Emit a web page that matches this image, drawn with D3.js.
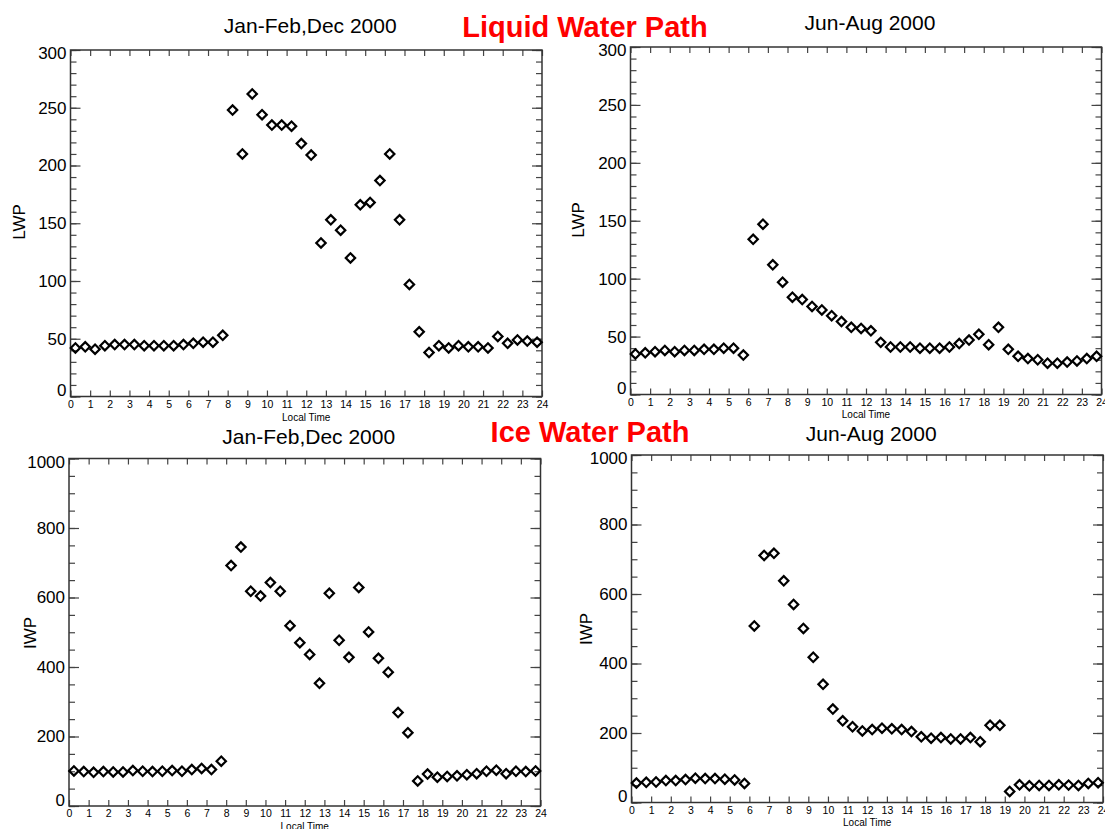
<!DOCTYPE html>
<html>
<head>
<meta charset="utf-8">
<script src="https://cdn.jsdelivr.net/npm/d3@7"></script>
<style>
  body { margin: 0; background: #fff; }
  svg { display: block; }
  text { font-family: "Liberation Sans", Arial, Helvetica, sans-serif; fill: #000; }
</style>
</head>
<body>
<svg id="chart" width="1105" height="829"></svg>
<script>
// local time of each half-hour bin
const localTime = [0.25, 0.75, 1.25, 1.75, 2.25, 2.75, 3.25, 3.75, 4.25, 4.75, 5.25, 5.75,
    6.25, 6.75, 7.25, 7.75, 8.25, 8.75, 9.25, 9.75, 10.25, 10.75, 11.25, 11.75,
    12.25, 12.75, 13.25, 13.75, 14.25, 14.75, 15.25, 15.75, 16.25, 16.75, 17.25, 17.75,
    18.25, 18.75, 19.25, 19.75, 20.25, 20.75, 21.25, 21.75, 22.25, 22.75, 23.25, 23.75];

const lwpWinter = [42, 43, 41, 44, 45, 45, 45, 44, 44, 44, 44, 45,
    46, 47, 47, 53, 248, 210, 262, 244, 235, 235, 234, 219,
    209, 133, 153, 144, 120, 166, 168, 187, 210, 153, 97, 56,
    38, 44, 42, 44, 43, 43, 42, 52, 46, 49, 48, 47];

const lwpSummer = [35, 36, 37, 38, 37, 38, 38, 39, 39, 40, 40, 34,
    134, 147, 112, 97, 84, 82, 76, 73, 68, 63, 58, 57,
    55, 45, 41, 41, 41, 40, 40, 40, 41, 44, 47, 52, 43, 58,
    39, 33, 31, 30, 27, 27, 28, 29, 31, 33];

const iwpWinter = [101, 99, 97, 99, 98, 98, 102, 100, 99, 100, 102, 100,
    105, 108, 105, 129, 692, 745, 618, 604, 643, 618, 519, 470,
    436, 353, 612, 477, 428, 629, 501, 425, 385, 269, 211, 72,
    92, 83, 85, 87, 90, 93, 100, 103, 93, 100, 99, 101];

const iwpSummer = [56, 58, 59, 63, 63, 66, 70, 69, 69, 67, 65, 55,
    508, 711, 717, 638, 570, 501, 418, 340, 269, 235, 218, 206,
    210, 214, 212, 210, 204, 189, 185, 187, 183, 183, 187, 175,
    222, 222, 32, 51, 48, 49, 49, 51, 50, 49, 55, 57];

const hourTicks = [0, 1, 2, 3, 4, 5, 6, 7, 8, 9, 10, 11, 12, 13, 14, 15, 16, 17, 18, 19, 20, 21, 22, 23, 24];
const lwpTicks = [0, 50, 100, 150, 200, 250, 300];
const iwpTicks = [0, 200, 400, 600, 800, 1000];

const seasonTitles = ["Jan-Feb,Dec 2000", "Jun-Aug 2000"];
const rowTitles = ["Liquid Water Path", "Ice Water Path"];

const panels = [
    {title: seasonTitles[0], label: "LWP", values: lwpWinter, ticks: lwpTicks, minor: d3.range(0, 301, 10),
     box: {left: 70.5, right: 542, top: 50, bottom: 396.5}, titleY: 33, labelX: 19, labelY: 222, xlabY: 421},
    {title: seasonTitles[1], label: "LWP", values: lwpSummer, ticks: lwpTicks, minor: d3.range(0, 301, 10),
     box: {left: 630.5, right: 1101.5, top: 47, bottom: 394.5}, titleY: 30, labelX: 578, labelY: 220, xlabY: 418},
    {title: seasonTitles[0], label: "IWP", values: iwpWinter, ticks: iwpTicks, minor: d3.range(0, 1001, 50),
     box: {left: 69, right: 540.5, top: 458.5, bottom: 806}, titleY: 444, labelX: 30, labelY: 633, xlabY: 830},
    {title: seasonTitles[1], label: "IWP", values: iwpSummer, ticks: iwpTicks, minor: d3.range(0, 1001, 50),
     box: {left: 631.5, right: 1103, top: 455, bottom: 802.5}, titleY: 441, labelX: 586, labelY: 629, xlabY: 826}
];

const svg = d3.select("#chart");

const diamond = d3.symbol().type(d3.symbolSquare).size(44);

panels.forEach(p => {
    const b = p.box;
    const yMax = p.ticks[p.ticks.length - 1];
    const x = d3.scaleLinear().domain([0, 24]).range([b.left, b.right]);
    const y = d3.scaleLinear().domain([0, yMax]).range([b.bottom, b.top]);
    const g = svg.append("g");

    // x axes: labelled bottom, bare top
    g.append("g")
        .attr("transform", `translate(0,${b.bottom})`)
        .call(d3.axisBottom(x).tickValues(hourTicks).tickSize(-6).tickSizeOuter(0).tickPadding(4))
        .call(a => a.selectAll("text").attr("font-size", 10.5).attr("font-family", null));
    g.append("g")
        .attr("transform", `translate(0,${b.top})`)
        .call(d3.axisTop(x).tickValues(hourTicks).tickSize(-6).tickSizeOuter(0).tickFormat(""));

    // y axes: minor then major
    g.append("g")
        .attr("transform", `translate(${b.left},0)`)
        .call(d3.axisLeft(y).tickValues(p.minor).tickSize(-6).tickSizeOuter(0).tickFormat(""));
    g.append("g")
        .attr("transform", `translate(${b.right},0)`)
        .call(d3.axisRight(y).tickValues(p.minor).tickSize(-6).tickSizeOuter(0).tickFormat(""));
    const yl = g.append("g")
        .attr("transform", `translate(${b.left},0)`)
        .call(d3.axisLeft(y).tickValues(p.ticks).tickSize(-10).tickSizeOuter(0).tickPadding(4)
            .tickFormat(d3.format("d")));
    yl.selectAll("text").attr("font-size", 17).attr("font-family", null)
        .attr("dy", d => d === 0 ? "-0.05em" : d === yMax ? "0.5em" : "0.32em");
    g.append("g")
        .attr("transform", `translate(${b.right},0)`)
        .call(d3.axisRight(y).tickValues(p.ticks).tickSize(-10).tickSizeOuter(0).tickFormat(""));

    g.selectAll(".domain").remove();
    g.selectAll(".tick line").attr("stroke", "#444").attr("stroke-width", 1.2);

    g.append("rect")
        .attr("x", b.left).attr("y", b.top)
        .attr("width", b.right - b.left).attr("height", b.bottom - b.top)
        .attr("fill", "none").attr("stroke", "#333").attr("stroke-width", 1.5);

    g.append("text")
        .attr("x", (b.left + b.right) / 2)
        .attr("y", p.xlabY)
        .attr("text-anchor", "middle")
        .attr("font-size", 10)
        .text("Local Time");

    g.append("text")
        .attr("transform", `translate(${p.labelX},${p.labelY}) rotate(-90)`)
        .attr("text-anchor", "middle")
        .attr("dy", "0.35em")
        .attr("font-size", 17)
        .text(p.label);

    g.append("text")
        .attr("x", (b.left + b.right) / 2 + 4)
        .attr("y", p.titleY)
        .attr("text-anchor", "middle")
        .attr("font-size", 21)
        .text(p.title);

    g.append("g").selectAll("path")
        .data(p.values)
        .join("path")
        .attr("d", diamond)
        .attr("transform", (d, i) => `translate(${x(localTime[i])},${y(d)}) rotate(45)`)
        .attr("fill", "none")
        .attr("stroke", "#000")
        .attr("stroke-width", 2.2);
});

// red row headings
svg.append("text")
    .attr("x", 585).attr("y", 37)
    .attr("text-anchor", "middle")
    .attr("font-size", 29).attr("font-weight", "bold")
    .style("fill", "#ff0000")
    .text(rowTitles[0]);
svg.append("text")
    .attr("x", 590).attr("y", 442)
    .attr("text-anchor", "middle")
    .attr("font-size", 29).attr("font-weight", "bold")
    .style("fill", "#ff0000")
    .text(rowTitles[1]);
</script>
</body>
</html>
